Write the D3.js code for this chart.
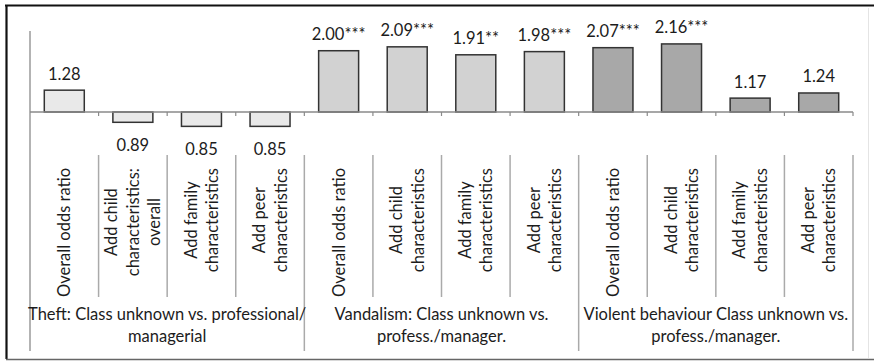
<!DOCTYPE html>
<html>
<head>
<meta charset="utf-8">
<script src="https://cdn.jsdelivr.net/npm/d3@7"></script>
<style>
  html, body { margin: 0; padding: 0; background: #fff; }
  svg { display: block; }
  text { font-family: Lato, "Noto Sans", sans-serif; fill: #1c1c1c; }
</style>
</head>
<body>
<svg id="chart" width="874" height="362"></svg>
<script>
// Odds ratios: class unknown vs. professional/managerial, three outcomes,
// each with successive model adjustments.
const groupIds = ["theft", "vandalism", "violent"];
const groupLabels = [
  ["Theft: Class unknown vs. professional/", "managerial"],
  ["Vandalism: Class unknown vs.", "profess./manager."],
  ["Violent behaviour Class unknown vs.", "profess./manager."]
];
const categoryGroups = ["theft", "theft", "theft", "theft",
  "vandalism", "vandalism", "vandalism", "vandalism",
  "violent", "violent", "violent", "violent"];
const categoryLabels = [
  ["Overall odds ratio"], ["Add child", "characteristics:", "overall"],
  ["Add family", "characteristics"], ["Add peer", "characteristics"],
  ["Overall odds ratio"], ["Add child", "characteristics"],
  ["Add family", "characteristics"], ["Add peer", "characteristics"],
  ["Overall odds ratio"], ["Add child", "characteristics"],
  ["Add family", "characteristics"], ["Add peer", "characteristics"]
];
const oddsRatios = [1.28, 0.89, 0.85, 0.85, 2.00, 2.09, 1.91, 1.98, 2.07, 2.16, 1.17, 1.24];
const significance = ["", "", "", "", "***", "***", "**", "***", "***", "***", "", ""];
const groupFills = ["#e9e9e9", "#d2d2d2", "#a8a8a8"];

const svg = d3.select("#chart");
const W = 874, H = 362;
const plot = { left: 30, right: 853, axisTop: 31, zeroY: 112 };
const FONT = 16.5;

const idx = d3.range(oddsRatios.length);
const x = d3.scaleBand().domain(idx).range([plot.left, plot.right])
  .paddingInner(0.417).paddingOuter(0.2085);
const y = d3.scaleLog().domain([1, 2.5]).range([plot.zeroY, plot.axisTop]);
const fill = d3.scaleOrdinal().domain(groupIds).range(groupFills);
const step = x.step();
const boundary = i => plot.left + i * step;

// outer frame
svg.append("line").attr("x1", 5).attr("x2", W).attr("y1", 5.5).attr("y2", 5.5)
  .attr("stroke", "#111").attr("stroke-width", 2.2);
svg.append("line").attr("x1", 6.5).attr("x2", 6.5).attr("y1", 5).attr("y2", 359)
  .attr("stroke", "#111").attr("stroke-width", 2.2);
svg.append("line").attr("x1", 6).attr("x2", W).attr("y1", 359.5).attr("y2", 359.5)
  .attr("stroke", "#666").attr("stroke-width", 1.5);
svg.append("line").attr("x1", 868.5).attr("x2", 868.5).attr("y1", 8).attr("y2", 358)
  .attr("stroke", "#e4e4e4").attr("stroke-width", 1);

// bars from the reference line at OR = 1
svg.append("g").selectAll("rect").data(idx).join("rect")
  .attr("x", i => x(i))
  .attr("width", x.bandwidth())
  .attr("y", i => Math.min(y(oddsRatios[i]), y(1)))
  .attr("height", i => Math.abs(y(oddsRatios[i]) - y(1)))
  .attr("fill", i => fill(categoryGroups[i]))
  .attr("stroke", "#333").attr("stroke-width", 1.5);

// value axis line and category axis (at OR = 1)
const axisColor = "#9a9a9a";
svg.append("line").attr("x1", plot.left).attr("x2", plot.left)
  .attr("y1", y(2.5)).attr("y2", 351)
  .attr("stroke", axisColor).attr("stroke-width", 1.5);
svg.append("line").attr("x1", plot.left).attr("x2", plot.right)
  .attr("y1", y(1)).attr("y2", y(1))
  .attr("stroke", "#8a8a8a").attr("stroke-width", 1.3);
svg.append("g").selectAll("line").data(d3.range(1, idx.length + 1)).join("line")
  .attr("x1", boundary).attr("x2", boundary)
  .attr("y1", y(1)).attr("y2", y(1) + 4)
  .attr("stroke", "#8a8a8a").attr("stroke-width", 1.2);

// separators between category labels, longer ones between outcome groups
svg.append("g").selectAll("line").data(d3.range(1, idx.length + 1)).join("line")
  .attr("x1", boundary).attr("x2", boundary)
  .attr("y1", 155)
  .attr("y2", i => (i % 4 === 0 ? 351 : 297))
  .attr("stroke", "#aaa").attr("stroke-width", 1.5);

// value labels
svg.append("g").selectAll("text").data(idx).join("text")
  .attr("x", i => x(i) + x.bandwidth() / 2)
  .attr("y", i => oddsRatios[i] >= 1 ? y(oddsRatios[i]) - 10.5 : y(oddsRatios[i]) + 28.5)
  .attr("text-anchor", "middle")
  .attr("font-size", FONT)
  .text(i => oddsRatios[i].toFixed(2) + significance[i]);

// rotated category labels, block aligned toward the axis, lines centred
const lineGap = 21.5;
const catG = svg.append("g");
idx.forEach(i => {
  const lines = categoryLabels[i];
  const cx = x(i) + x.bandwidth() / 2;
  const g = catG.append("g");
  const texts = lines.map((s, k) => g.append("text")
    .attr("font-size", FONT)
    .attr("text-anchor", "middle")
    .attr("dy", "0.36em")
    .text(s));
  const maxLen = d3.max(texts, t => t.node().getComputedTextLength());
  const cy = 168 + maxLen / 2;
  texts.forEach((t, k) => {
    const lx = cx + (k - (lines.length - 1) / 2) * lineGap;
    t.attr("transform", `translate(${lx},${cy}) rotate(-90)`);
  });
});

// outcome group labels
const groupG = svg.append("g");
groupIds.forEach((gId, gi) => {
  const members = idx.filter(i => categoryGroups[i] === gId);
  const gx = (boundary(d3.min(members)) + boundary(d3.max(members) + 1)) / 2;
  groupLabels[gi].forEach((s, k) => {
    groupG.append("text")
      .attr("x", gx)
      .attr("y", 319.5 + k * 22.5)
      .attr("text-anchor", "middle")
      .attr("font-size", FONT)
      .text(s);
  });
});
</script>
</body>
</html>
